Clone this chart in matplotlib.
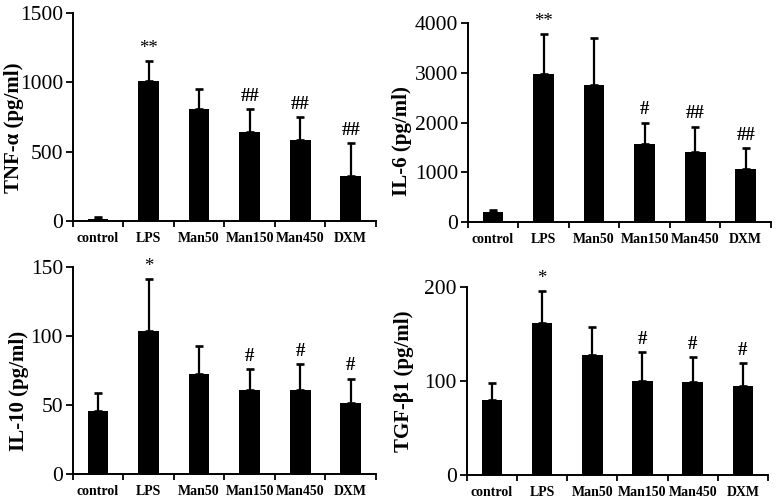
import matplotlib
matplotlib.use("Agg")
import matplotlib.pyplot as plt
from matplotlib.ticker import FixedLocator

# ---- data ----
groups = ["control", "LPS", "Man50", "Man150", "Man450", "DXM"]

tnf_mean = [12, 1013, 805, 639, 586, 326]
tnf_sd = [17, 142, 145, 171, 162, 238]
tnf_sig = ["", "**", "", "##", "##", "##"]
tnf_ticks = [0, 500, 1000, 1500]

il6_mean = [188, 2971, 2756, 1566, 1398, 1055]
il6_sd = [47, 807, 955, 431, 518, 437]
il6_sig = ["", "**", "", "#", "##", "##"]
il6_ticks = [0, 1000, 2000, 3000, 4000]

il10_mean = [45.7, 103.5, 72.5, 60.9, 60.9, 51.8]
il10_sd = [12.8, 37.5, 20.2, 15.4, 18.8, 17.3]
il10_sig = ["", "*", "", "#", "#", "#"]
il10_ticks = [0, 50, 100, 150]

tgf_mean = [79.6, 162, 127.9, 99.8, 98.8, 95.2]
tgf_sd = [18.1, 34, 29.5, 31.2, 26.6, 23.8]
tgf_sig = ["", "*", "", "#", "#", "#"]
tgf_ticks = [0, 100, 200]

plt.rcParams['font.family'] = ['Liberation Serif', 'DejaVu Serif']

W, H = 778, 500
fig = plt.figure(figsize=(W / 100, H / 100), dpi=100)

def px_axes(left, top, right, bottom):
    return fig.add_axes([left / W, 1 - bottom / H, (right - left) / W, (bottom - top) / H])

panels = [
    ((72.7, 13.3, 376, 220.7), tnf_mean, tnf_sd, tnf_sig, tnf_ticks, "TNF-α (pg/ml)", (13.5, 128)),
    ((467.7, 23.3, 771, 221.7), il6_mean, il6_sd, il6_sig, il6_ticks, "IL-6 (pg/ml)", (402, 141)),
    ((72.7, 266.7, 376, 474.3), il10_mean, il10_sd, il10_sig, il10_ticks, "IL-10 (pg/ml)", (19, 391)),
    ((466.7, 287.3, 768, 475), tgf_mean, tgf_sd, tgf_sig, tgf_ticks, "TGF-β1 (pg/ml)", (404, 381)),
]

for box, mean, sd, sig, ticks, ylab, (labx, laby) in panels:
    ax = px_axes(*box)
    x = list(range(len(groups)))
    ax.bar(x, mean, width=0.41, color="black", edgecolor="none", zorder=2)
    ax.errorbar(x, mean, yerr=[[0] * len(sd), sd], fmt="none", ecolor="black",
                elinewidth=1.6, capsize=2.8, capthick=1.9, zorder=1)
    ymax = ticks[-1]
    for xi, m, s, t in zip(x, mean, sd, sig):
        if t:
            ax.annotate(t, (xi, m + s), xytext=(0, 3), textcoords="offset points",
                        ha="center", va="bottom", fontsize=13.5,
                        fontweight="bold" if "#" in t else "normal", annotation_clip=False)
    ax.set_xlim(-0.5, len(groups) - 0.5)
    ax.set_ylim(0, ymax)
    ax.set_yticks(ticks)
    ax.set_yticklabels([str(t) for t in ticks], fontsize=15.5)
    ax.set_xticks(x)
    ax.set_xticklabels(groups, fontsize=10, fontweight="bold")
    ax.xaxis.set_minor_locator(FixedLocator([i - 0.5 for i in range(len(groups) + 1)]))
    ax.tick_params(axis="x", which="major", length=0, pad=8)
    ax.tick_params(axis="x", which="minor", length=4, width=1.3, direction="out")
    ax.tick_params(axis="y", which="major", length=5, width=1.3, direction="out", pad=2)
    for side in ["top", "right"]:
        ax.spines[side].set_visible(False)
    for side in ["left", "bottom"]:
        ax.spines[side].set_linewidth(1.4)
    ax.patch.set_visible(False)
    fig.text(labx / W, 1 - laby / H, ylab, rotation=90, ha="center", va="center",
             fontsize=15, fontweight="bold")

fig.savefig("out.png", dpi=100)
